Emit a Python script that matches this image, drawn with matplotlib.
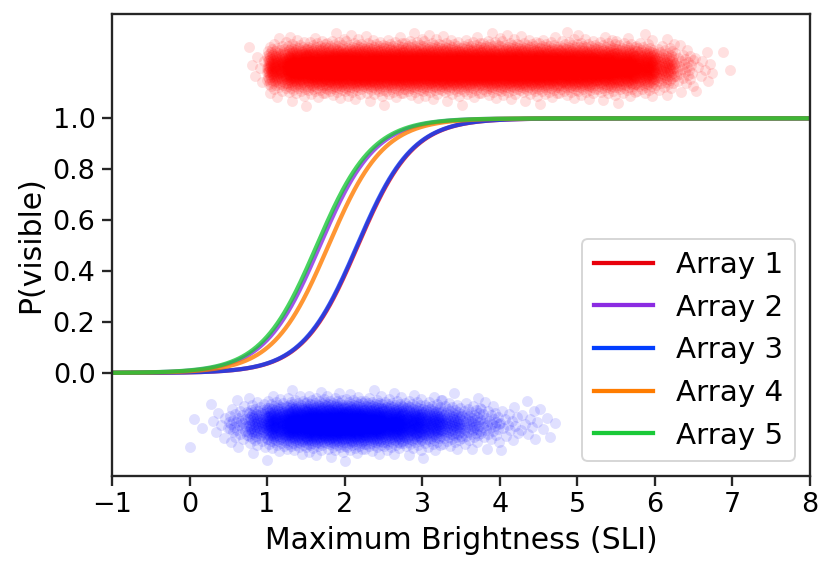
import matplotlib
matplotlib.use("Agg")
import matplotlib.pyplot as plt
import numpy as np
from statistics import NormalDist
from matplotlib.lines import Line2D

# ---------------- data ----------------
array_names = ["Array 1", "Array 2", "Array 3", "Array 4", "Array 5"]
array_colors = ["#e8000b", "#8b2be2", "#023eff", "#ff7c00", "#1ac938"]
# fitted logistic parameters: midpoint (SLI) and slope
curve_mid = [2.17, 1.68, 2.16, 1.79, 1.64]
curve_slope = [2.8, 2.8, 2.8, 2.8, 2.8]

# detections (visible, plotted at 1.2) - counts per 0.25-SLI bin
vis_bin_left = [0.50, 0.75, 1.00, 1.25, 1.50, 1.75, 2.00, 2.25, 2.50, 2.75,
                3.00, 3.25, 3.50, 3.75, 4.00, 4.25, 4.50, 4.75, 5.00, 5.25,
                5.50, 5.75, 6.00, 6.25, 6.50, 6.75]
vis_counts = [0, 8, 150, 250, 280, 300, 300, 300, 300, 300,
              300, 300, 300, 300, 300, 300, 300, 290, 280, 260,
              230, 180, 90, 30, 10, 2]
vis_level = 1.2

# non-detections (plotted at -0.2) - counts per 0.25-SLI bin
inv_bin_left = [0.00, 0.25, 0.50, 0.75, 1.00, 1.25, 1.50, 1.75, 2.00, 2.25,
                2.50, 2.75, 3.00, 3.25, 3.50, 3.75, 4.00, 4.25, 4.50]
inv_counts = [3, 8, 30, 80, 160, 230, 270, 280, 270, 240,
              200, 160, 120, 80, 50, 30, 15, 10, 5]
inv_level = -0.2

bin_width = 0.25
jitter_sd = 0.043

xticks = [-1, 0, 1, 2, 3, 4, 5, 6, 7, 8]
yticks = [0.0, 0.2, 0.4, 0.6, 0.8, 1.0]


def strip_points(bin_left, counts, level):
    """Lay the points of each bin out deterministically (strip plot)."""
    nd = NormalDist()
    xs, ys = [], []
    for b, (x0, n) in enumerate(zip(bin_left, counts)):
        phase = (b * 0.7548776662) % 1.0
        for j in range(n):
            u = (j + 0.05 + 0.9 * phase) / n
            u = min(max(u, 1e-4), 1 - 1e-4)
            ys.append(level + jitter_sd * nd.inv_cdf(u))
            xs.append(x0 + bin_width * ((j * 0.6180339887 + phase) % 1.0))
    return np.array(xs), np.array(ys)


# ---------------- plot ----------------
DPI = 139
plt.rcParams['font.family'] = ['DejaVu Sans']
fig = plt.figure(figsize=(834 / DPI, 570 / DPI), dpi=DPI)
ax = fig.add_axes([112 / 834, 1 - 476 / 570, (810 - 112) / 834, (476 - 14) / 570])

tick_fs = 14
label_fs = 15.5
legend_fs = 15.2

xv, yv = strip_points(vis_bin_left, vis_counts, vis_level)
xi, yi = strip_points(inv_bin_left, inv_counts, inv_level)
ax.scatter(xv, yv, s=32, color="red", alpha=0.12, linewidths=0, zorder=1)
ax.scatter(xi, yi, s=32, color="blue", alpha=0.12, linewidths=0, zorder=1)

xx = np.linspace(-1, 8, 600)
for name, c, m, k in zip(array_names, array_colors, curve_mid, curve_slope):
    ax.plot(xx, 1.0 / (1.0 + np.exp(-k * (xx - m))), color=c, lw=2.2,
            alpha=0.8, zorder=2)

handles = [Line2D([0], [0], color=c, lw=2.2) for c in array_colors]
ax.legend(handles, array_names, loc="lower right", fontsize=legend_fs)

ax.set_xlim(-1, 8)
ax.set_ylim(-0.405, 1.41)
ax.set_xticks(xticks)
ax.set_yticks(yticks)
ax.set_yticklabels([f"{v:.1f}" for v in yticks])
ax.tick_params(labelsize=tick_fs, length=5, width=1.2, color="0.15")
for sp in ax.spines.values():
    sp.set_color("0.15")
    sp.set_linewidth(1.2)
ax.set_xlabel("Maximum Brightness (SLI)", fontsize=label_fs)
ax.set_ylabel("P(visible)", fontsize=label_fs)

fig.savefig("out.png", dpi=DPI)
